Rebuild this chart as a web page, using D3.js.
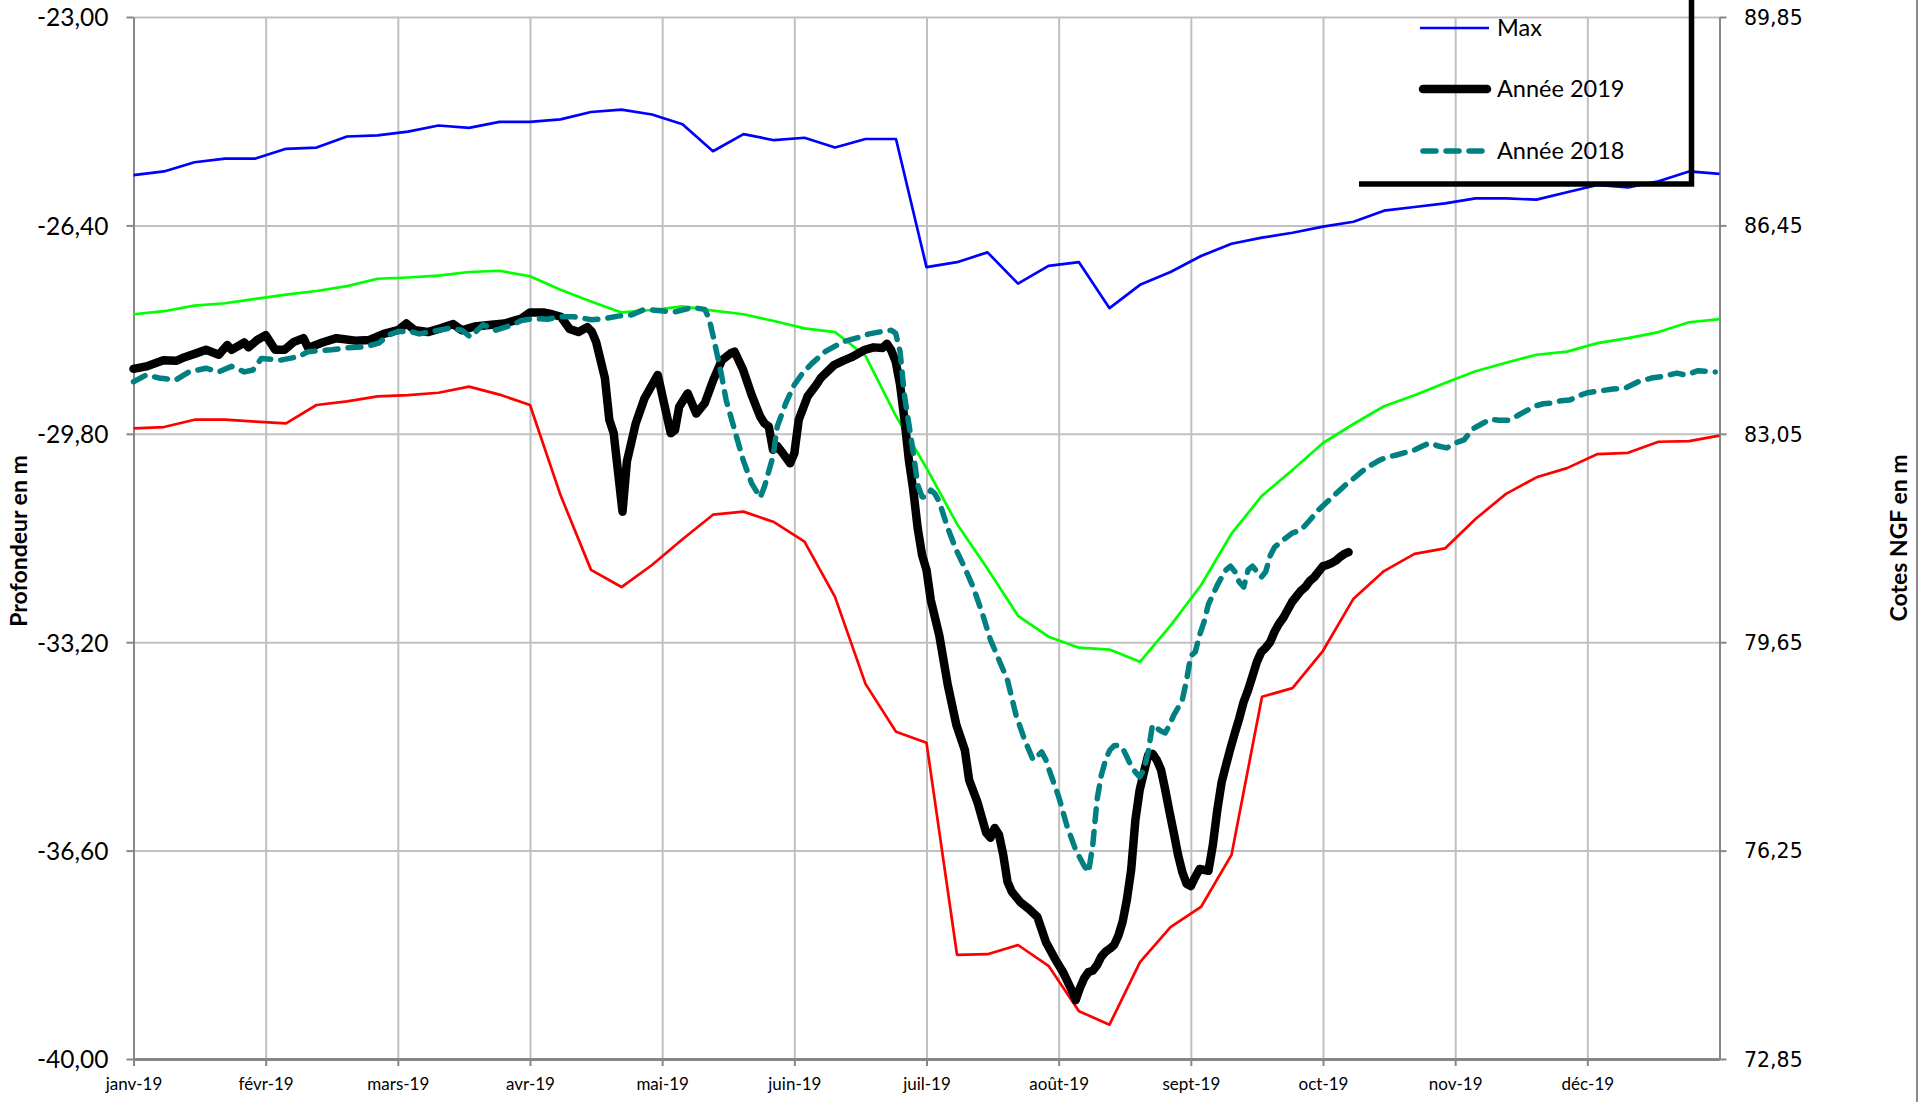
<!DOCTYPE html>
<html>
<head>
<meta charset="utf-8">
<script src="https://cdn.jsdelivr.net/npm/d3@7"></script>
<style>
  body { margin: 0; background: #fff; }
  svg { display: block; }
</style>
</head>
<body>
<script>
// dimensions of the page and plot area
const width = 1931, height = 1102;
const plot = { left: 133.5, right: 1719.5, top: 17, bottom: 1059 };

// ---- data ----
const monthLabels = ["janv-19", "févr-19", "mars-19", "avr-19", "mai-19", "juin-19",
  "juil-19", "août-19", "sept-19", "oct-19", "nov-19", "déc-19"];
const depthTicks = [-23, -26.4, -29.8, -33.2, -36.6, -40];
const ngfTicks = [89.85, 86.45, 83.05, 79.65, 76.25, 72.85];

// weekly envelopes (53 weeks)
const weeklyMax = [-25.58, -25.52, -25.37, -25.31, -25.31, -25.15, -25.13, -24.95, -24.93, -24.87,
  -24.77, -24.81, -24.71, -24.71, -24.67, -24.55, -24.51, -24.59, -24.75, -25.19,
  -24.91, -25.01, -24.97, -25.13, -24.99, -24.99, -27.08, -27.00, -26.84, -27.35,
  -27.06, -27.00, -27.75, -27.37, -27.16, -26.90, -26.70, -26.60, -26.52, -26.42,
  -26.34, -26.16, -26.10, -26.04, -25.96, -25.96, -25.98, -25.86, -25.74, -25.78,
  -25.68, -25.52, -25.56];
const weeklyMoy = [-27.85, -27.80, -27.71, -27.67, -27.60, -27.53, -27.47, -27.39, -27.27, -27.25,
  -27.22, -27.16, -27.14, -27.23, -27.45, -27.64, -27.82, -27.78, -27.72, -27.79,
  -27.85, -27.96, -28.08, -28.14, -28.53, -29.51, -30.36, -31.27, -32.00, -32.77,
  -33.11, -33.29, -33.32, -33.52, -32.93, -32.27, -31.43, -30.81, -30.39, -29.95,
  -29.64, -29.35, -29.17, -28.97, -28.78, -28.64, -28.51, -28.46, -28.32, -28.24,
  -28.14, -27.98, -27.93];
const weeklyMin = [-29.71, -29.69, -29.57, -29.57, -29.60, -29.63, -29.33, -29.27, -29.19, -29.17,
  -29.13, -29.03, -29.16, -29.33, -30.80, -32.02, -32.30, -31.94, -31.52, -31.12,
  -31.07, -31.24, -31.56, -32.46, -33.88, -34.66, -34.84, -38.30, -38.29, -38.14,
  -38.48, -39.22, -39.44, -38.42, -37.85, -37.52, -36.67, -34.09, -33.95, -33.34,
  -32.49, -32.04, -31.76, -31.67, -31.19, -30.78, -30.51, -30.36, -30.13, -30.11,
  -29.93, -29.92, -29.83];

// daily levels, "dd/mm"
const annee2019 = [
  ["01/01",-28.74],["04/01",-28.70],["08/01",-28.60],["11/01",-28.61],["13/01",-28.55],["16/01",-28.48],
  ["18/01",-28.43],["21/01",-28.51],["23/01",-28.35],["24/01",-28.43],["27/01",-28.31],["28/01",-28.39],
  ["30/01",-28.27],["01/02",-28.19],["03/02",-28.43],["05/02",-28.43],["07/02",-28.30],["09/02",-28.24],
  ["10/02",-28.40],["13/02",-28.31],["16/02",-28.24],["20/02",-28.28],["23/02",-28.27],["26/02",-28.17],
  ["01/03",-28.11],["03/03",-28.00],["05/03",-28.11],["08/03",-28.14],["11/03",-28.08],["14/03",-28.01],
  ["16/03",-28.11],["19/03",-28.05],["23/03",-28.02],["26/03",-28.00],["30/03",-27.92],["01/04",-27.82],
  ["04/04",-27.82],["06/04",-27.85],["08/04",-27.89],["10/04",-28.09],["12/04",-28.14],["14/04",-28.06],
  ["15/04",-28.13],["16/04",-28.30],["18/04",-28.89],["19/04",-29.57],["20/04",-29.79],["22/04",-31.07],
  ["23/04",-30.25],["25/04",-29.63],["27/04",-29.22],["30/04",-28.84],["03/05",-29.79],["04/05",-29.74],
  ["05/05",-29.36],["07/05",-29.14],["09/05",-29.47],["11/05",-29.30],["13/05",-28.92],["15/05",-28.60],
  ["17/05",-28.49],["18/05",-28.46],["20/05",-28.76],["22/05",-29.17],["24/05",-29.52],["25/05",-29.63],
  ["26/05",-29.68],["27/05",-30.06],["28/05",-30.00],["29/05",-30.09],["31/05",-30.28],["01/06",-30.12],
  ["02/06",-29.57],["04/06",-29.19],["06/06",-29.00],["07/06",-28.89],["10/06",-28.68],["12/06",-28.61],
  ["14/06",-28.55],["17/06",-28.43],["19/06",-28.39],["21/06",-28.40],["22/06",-28.33],["23/06",-28.44],
  ["24/06",-28.62],["25/06",-29.00],["26/06",-29.57],["27/06",-30.23],["28/06",-30.72],["29/06",-31.34],
  ["30/06",-31.78],["01/07",-32.02],["02/07",-32.51],["03/07",-32.80],["04/07",-33.09],["06/07",-33.90],
  ["08/07",-34.55],["10/07",-34.96],["11/07",-35.45],["13/07",-35.82],["15/07",-36.31],["16/07",-36.39],
  ["17/07",-36.23],["18/07",-36.34],["19/07",-36.67],["20/07",-37.11],["21/07",-37.27],["23/07",-37.44],
  ["25/07",-37.55],["27/07",-37.68],["29/07",-38.09],["31/07",-38.35],["02/08",-38.58],["04/08",-38.87],
  ["05/08",-39.04],["06/08",-38.84],["07/08",-38.68],["08/08",-38.58],["09/08",-38.56],["10/08",-38.47],
  ["11/08",-38.33],["12/08",-38.25],["13/08",-38.20],["14/08",-38.14],["15/08",-37.99],["16/08",-37.76],
  ["17/08",-37.40],["18/08",-36.92],["19/08",-36.10],["20/08",-35.61],["21/08",-35.32],["22/08",-35.04],
  ["23/08",-35.02],["24/08",-35.12],["25/08",-35.28],["26/08",-35.61],["27/08",-35.97],["28/08",-36.31],
  ["29/08",-36.67],["30/08",-36.95],["31/08",-37.14],["01/09",-37.18],["02/09",-37.03],["03/09",-36.90],
  ["05/09",-36.93],["06/09",-36.51],["07/09",-35.94],["08/09",-35.48],["09/09",-35.20],["10/09",-34.93],
  ["11/09",-34.68],["12/09",-34.44],["13/09",-34.17],["14/09",-33.98],["15/09",-33.75],["16/09",-33.52],
  ["17/09",-33.36],["18/09",-33.29],["19/09",-33.20],["20/09",-33.03],["21/09",-32.90],["22/09",-32.80],
  ["23/09",-32.67],["24/09",-32.54],["25/09",-32.45],["26/09",-32.36],["27/09",-32.30],["28/09",-32.20],
  ["29/09",-32.14],["30/09",-32.05],["01/10",-31.96],["02/10",-31.94],["03/10",-31.91],["04/10",-31.87],
  ["05/10",-31.81],["06/10",-31.76],["07/10",-31.73]
];
const annee2018 = [
  ["01/01",-28.95],["04/01",-28.84],["07/01",-28.89],["11/01",-28.92],["14/01",-28.79],["18/01",-28.73],
  ["21/01",-28.79],["24/01",-28.70],["27/01",-28.79],["29/01",-28.76],["31/01",-28.57],["04/02",-28.60],
  ["08/02",-28.54],["10/02",-28.46],["15/02",-28.43],["18/02",-28.40],["22/02",-28.38],["25/02",-28.32],
  ["27/02",-28.19],["01/03",-28.13],["04/03",-28.13],["06/03",-28.17],["09/03",-28.13],["13/03",-28.08],
  ["16/03",-28.11],["18/03",-28.22],["21/03",-28.02],["24/03",-28.11],["28/03",-28.02],["30/03",-27.95],
  ["02/04",-27.92],["05/04",-27.93],["08/04",-27.89],["11/04",-27.89],["15/04",-27.94],["18/04",-27.92],
  ["21/04",-27.88],["24/04",-27.86],["27/04",-27.77],["30/04",-27.79],["04/05",-27.81],["08/05",-27.74],
  ["11/05",-27.77],["12/05",-27.92],["13/05",-28.22],["14/05",-28.54],["15/05",-28.87],["16/05",-29.25],
  ["18/05",-29.74],["20/05",-30.23],["22/05",-30.61],["24/05",-30.84],["25/05",-30.66],["27/05",-30.17],
  ["28/05",-29.68],["30/05",-29.30],["01/06",-29.00],["03/06",-28.80],["05/06",-28.65],["08/06",-28.46],
  ["12/06",-28.30],["15/06",-28.24],["18/06",-28.17],["21/06",-28.13],["23/06",-28.11],["24/06",-28.16],
  ["25/06",-28.46],["26/06",-29.18],["27/06",-29.64],["28/06",-30.11],["29/06",-30.63],["30/06",-30.83],
  ["01/07",-30.83],["02/07",-30.72],["03/07",-30.78],["04/07",-30.91],["06/07",-31.34],["08/07",-31.70],
  ["10/07",-31.99],["12/07",-32.31],["14/07",-32.71],["16/07",-33.16],["18/07",-33.49],["20/07",-33.82],
  ["22/07",-34.39],["24/07",-34.79],["26/07",-35.12],["27/07",-35.06],["28/07",-34.99],["29/07",-35.12],
  ["30/07",-35.33],["01/08",-35.72],["03/08",-36.21],["05/08",-36.59],["07/08",-36.85],["08/08",-36.95],
  ["09/08",-36.51],["10/08",-35.77],["11/08",-35.37],["12/08",-35.12],["13/08",-34.96],["14/08",-34.89],
  ["15/08",-34.88],["16/08",-34.93],["17/08",-35.07],["18/08",-35.22],["19/08",-35.32],["20/08",-35.40],
  ["21/08",-35.28],["22/08",-34.99],["23/08",-34.55],["24/08",-34.60],["25/08",-34.65],["26/08",-34.68],
  ["27/08",-34.55],["28/08",-34.39],["29/08",-34.27],["30/08",-34.14],["31/08",-33.82],["01/09",-33.42],
  ["02/09",-33.36],["03/09",-33.08],["04/09",-32.87],["05/09",-32.58],["06/09",-32.43],["07/09",-32.27],
  ["08/09",-32.14],["09/09",-32.02],["10/09",-31.96],["11/09",-32.05],["12/09",-32.22],["13/09",-32.30],
  ["14/09",-32.02],["15/09",-31.96],["16/09",-32.05],["17/09",-32.14],["18/09",-32.05],["19/09",-31.79],
  ["20/09",-31.65],["22/09",-31.53],["24/09",-31.42],["26/09",-31.37],["28/09",-31.21],["30/09",-31.04],
  ["02/10",-30.91],["04/10",-30.78],["06/10",-30.65],["08/10",-30.54],["10/10",-30.42],["12/10",-30.32],
  ["14/10",-30.24],["16/10",-30.18],["18/10",-30.15],["20/10",-30.11],["22/10",-30.08],["24/10",-30.01],
  ["26/10",-29.95],["28/10",-30.00],["30/10",-30.03],["01/11",-29.95],["03/11",-29.90],["05/11",-29.72],
  ["07/11",-29.64],["09/11",-29.56],["11/11",-29.58],["13/11",-29.58],["15/11",-29.51],["17/11",-29.43],
  ["19/11",-29.35],["21/11",-29.31],["23/11",-29.30],["25/11",-29.26],["27/11",-29.25],["29/11",-29.18],
  ["01/12",-29.13],["04/12",-29.10],["07/12",-29.07],["10/12",-29.05],["13/12",-28.95],["16/12",-28.89],
  ["19/12",-28.86],["22/12",-28.81],["24/12",-28.84],["27/12",-28.77],["31/12",-28.79]
];

// ---- svg ----
const svg = d3.select("body").append("svg")
  .attr("width", width)
  .attr("height", height);

// months are spaced evenly on the axis
const x = d3.scaleLinear().domain([0, 12]).range([plot.left, plot.right]);
const xWeek = d3.scaleLinear().domain([0, weeklyMax.length - 1]).range([plot.left, plot.right]);
const y = d3.scaleLinear().domain([-23, -40]).range([plot.top, plot.bottom]);
const yNgf = d3.scaleLinear().domain([89.85, 72.85]).range([plot.top, plot.bottom]);

// "dd/mm" -> month position
function toMonth(s) {
  const [d, m] = s.split("/").map(Number);
  const days = new Date(2019, m, 0).getDate();
  return (m - 1) + (d - 1) / days;
}

const fr = d3.formatLocale({ decimal: ",", thousands: " ", grouping: [3], currency: ["", " €"], minus: "-" });
const fmt = fr.format(".2f");

const gridColor = "#c0c0c0", axisColor = "#878787";

// horizontal grid
svg.append("g")
  .attr("transform", `translate(${plot.left},0)`)
  .call(d3.axisLeft(y).tickValues(depthTicks).tickSize(-(plot.right - plot.left)).tickFormat(""))
  .call(g => g.select(".domain").remove())
  .call(g => g.selectAll("line").attr("stroke", gridColor).attr("stroke-width", 2));

// vertical grid (month starts)
svg.append("g")
  .attr("transform", `translate(0,${plot.bottom})`)
  .call(d3.axisBottom(x).tickValues(d3.range(1, 12)).tickSize(-(plot.bottom - plot.top)).tickFormat(""))
  .call(g => g.select(".domain").remove())
  .call(g => g.selectAll("line").attr("stroke", gridColor).attr("stroke-width", 2));

// left axis
svg.append("g")
  .attr("transform", `translate(${plot.left},0)`)
  .call(d3.axisLeft(y).tickValues(depthTicks).tickSize(7).tickSizeOuter(0).tickFormat(fmt))
  .call(g => g.select(".domain").attr("stroke", axisColor).attr("stroke-width", 2))
  .call(g => g.selectAll("line").attr("stroke", axisColor).attr("stroke-width", 2))
  .call(g => g.selectAll("text")
    .attr("x", -25).attr("dy", "0.36em")
    .attr("font-family", "Lato, 'Open Sans', sans-serif")
    .attr("font-size", 24.5).attr("fill", "#000"));

// right axis
svg.append("g")
  .attr("transform", `translate(${plot.right},0)`)
  .call(d3.axisRight(yNgf).tickValues(ngfTicks).tickSize(7).tickSizeOuter(0).tickFormat(fmt))
  .call(g => g.select(".domain").attr("stroke", axisColor).attr("stroke-width", 2))
  .call(g => g.selectAll("line").attr("stroke", axisColor).attr("stroke-width", 2))
  .call(g => g.selectAll("text")
    .attr("x", 24.5).attr("dy", "0.36em")
    .attr("font-family", "'DejaVu Sans', Verdana, sans-serif")
    .attr("font-size", 20.5).attr("fill", "#000"));

// bottom axis
svg.append("g")
  .attr("transform", `translate(0,${plot.bottom})`)
  .call(d3.axisBottom(x).tickValues(d3.range(0, 12)).tickSize(7).tickSizeOuter(0).tickFormat(i => monthLabels[i]))
  .call(g => g.select(".domain").attr("stroke", axisColor).attr("stroke-width", 3))
  .call(g => g.selectAll("line").attr("stroke", axisColor).attr("stroke-width", 2))
  .call(g => g.selectAll("text")
    .attr("y", 31).attr("dy", 0)
    .attr("font-family", "Lato, 'Open Sans', sans-serif")
    .attr("font-size", 17).attr("fill", "#000"));

// axis titles
svg.append("text")
  .attr("transform", `translate(18,541) rotate(-90)`)
  .attr("text-anchor", "middle").attr("dominant-baseline", "central")
  .attr("font-family", "Lato, sans-serif").attr("font-weight", "bold").attr("font-size", 23)
  .text("Profondeur en m");

svg.append("text")
  .attr("transform", `translate(1898,538) rotate(-90)`)
  .attr("text-anchor", "middle").attr("dominant-baseline", "central")
  .attr("font-family", "Lato, sans-serif").attr("font-weight", "bold").attr("font-size", 23)
  .text("Cotes NGF en m");

// chart frame on the right edge
svg.append("line")
  .attr("x1", 1917).attr("x2", 1917).attr("y1", 0).attr("y2", height)
  .attr("stroke", "#8c8c8c").attr("stroke-width", 2);

// ---- series ----
const weekLine = d3.line().x((d, i) => xWeek(i)).y(d => y(d));
const dayLine = d3.line().x(d => x(toMonth(d[0]))).y(d => y(d[1]));

const envelopes = [
  { values: weeklyMin, color: "#ff0000" },
  { values: weeklyMoy, color: "#00ff00" },
  { values: weeklyMax, color: "#0000ff" }
];
envelopes.forEach(s => {
  svg.append("path")
    .datum(s.values)
    .attr("d", weekLine)
    .attr("fill", "none")
    .attr("stroke", s.color)
    .attr("stroke-width", 2.7)
    .attr("stroke-linejoin", "round");
});

// 2019
svg.append("path")
  .datum(annee2019)
  .attr("d", dayLine)
  .attr("fill", "none")
  .attr("stroke", "#000")
  .attr("stroke-width", 8.5)
  .attr("stroke-linejoin", "round")
  .attr("stroke-linecap", "round");

// 2018
svg.append("path")
  .datum(annee2018)
  .attr("d", dayLine)
  .attr("fill", "none")
  .attr("stroke", "#008080")
  .attr("stroke-width", 5.5)
  .attr("stroke-dasharray", "13,10")
  .attr("stroke-linejoin", "round")
  .attr("stroke-linecap", "round");

// ---- legend (box runs off the top of the picture) ----
const legend = svg.append("g");
legend.append("path")
  .attr("d", "M1359,184 H1691.5 V0")
  .attr("fill", "none")
  .attr("stroke", "#000")
  .attr("stroke-width", 5.5);

const legendItems = [
  { label: "Max", y: 28, color: "#0000ff", w: 2.7, dash: null, cap: "butt" },
  { label: "Année 2019", y: 89, color: "#000", w: 8.5, dash: null, cap: "round" },
  { label: "Année 2018", y: 151, color: "#008080", w: 5.5, dash: "13,10", cap: "round" }
];
legendItems.forEach(it => {
  legend.append("line")
    .attr("x1", it.cap === "round" ? 1423 : 1420).attr("x2", it.cap === "round" ? 1487 : 1489)
    .attr("y1", it.y).attr("y2", it.y)
    .attr("stroke", it.color).attr("stroke-width", it.w)
    .attr("stroke-linecap", it.cap)
    .attr("stroke-dasharray", it.dash);
  legend.append("text")
    .attr("x", 1497).attr("y", it.y + 8)
    .attr("font-family", "Lato, 'Open Sans', sans-serif")
    .attr("font-size", 23.5)
    .text(it.label);
});
</script>
</body>
</html>
